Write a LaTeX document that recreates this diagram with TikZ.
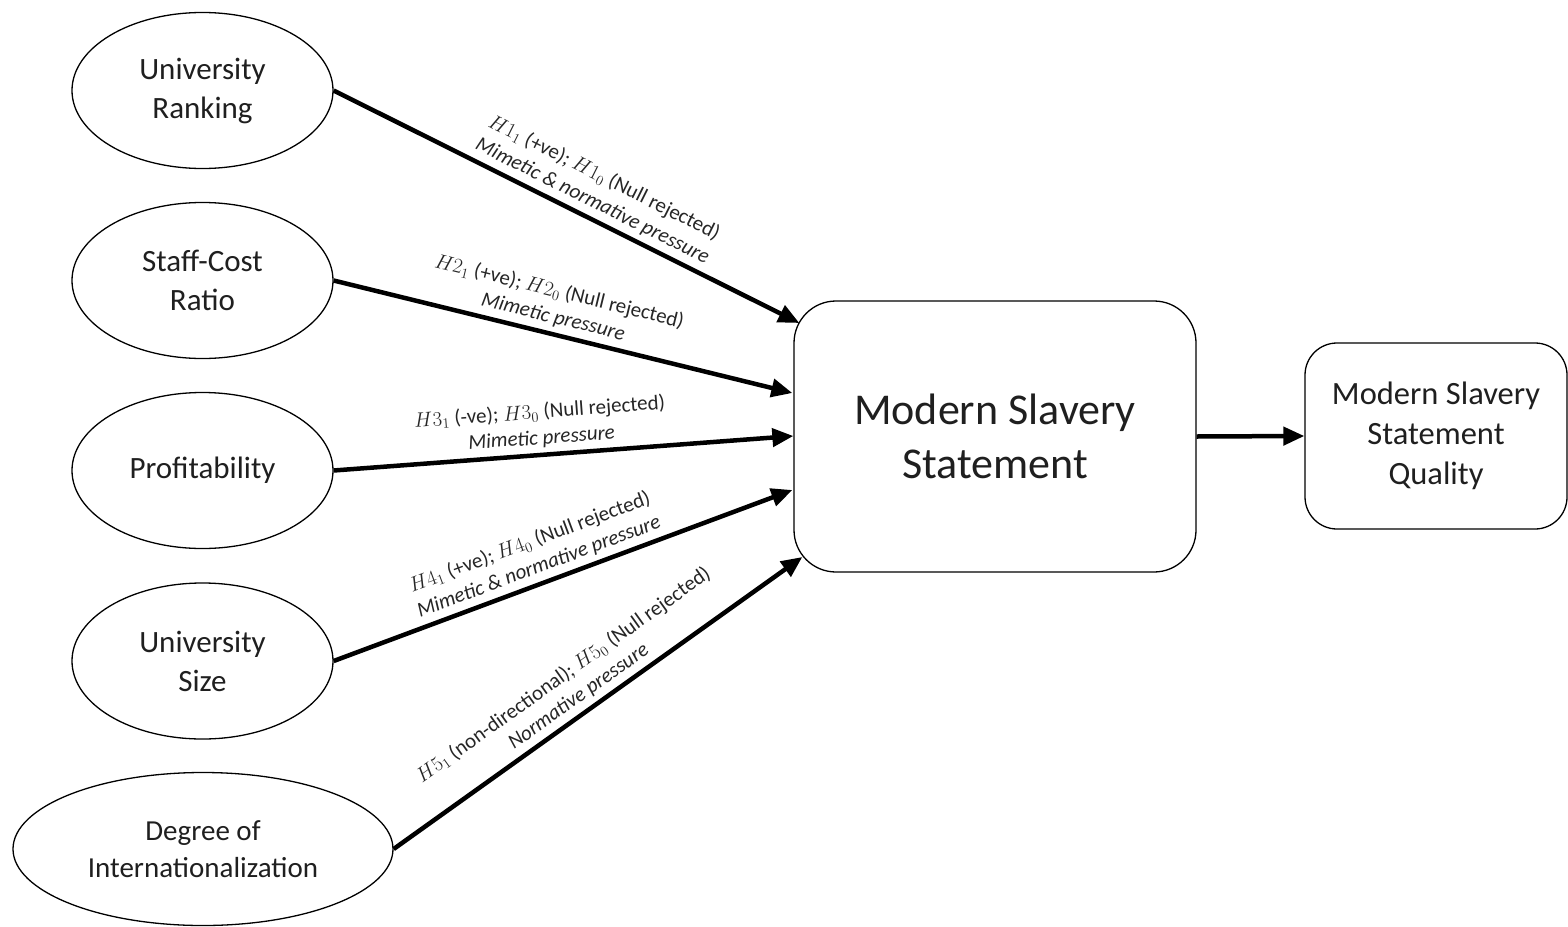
\documentclass[tikz,border=0pt]{standalone}
\usepackage{fontspec}
\setmainfont{Carlito}
\usetikzlibrary{arrows.meta,shapes.geometric,calc}
\begin{document}
\begin{tikzpicture}[x=1pt,y=-1pt,
  ell/.style={ellipse,draw,line width=1.3pt,inner sep=0pt,minimum width=261pt,minimum height=156pt,align=center,text=black!88,font=\fontsize{31}{39}\selectfont},
  box/.style={rectangle,draw,line width=1.3pt,align=center,inner sep=0pt,text=black!88},
  arr/.style={line width=4.5pt,-{Triangle[length=21pt,width=18pt]}},
  lab/.style={sloped,above,align=center,inner sep=5pt,text=black!85,font=\fontsize{21}{26}\selectfont}]
\useasboundingbox (0,0) rectangle (1568,926);

\node[ell] (r) at (202.5,90.5) {University\\Ranking};
\node[ell] (s) at (202.5,280.5) {Staff-Cost\\Ratio};
\node[ell] (p) at (202.5,470.5) {Profitability};
\node[ell] (u) at (202.5,661) {University\\Size};
\node[ell,minimum width=380pt,minimum height=153pt,font=\fontsize{29}{37}\selectfont] (d) at (203,849) {Degree of\\Internationalization};

\node[box,rounded corners=42pt,minimum width=402pt,minimum height=271pt,font=\fontsize{44}{54}\selectfont] (m) at (995,436.5) {Modern Slavery\\Statement};
\node[box,rounded corners=32pt,minimum width=262pt,minimum height=186pt,font=\fontsize{32.5}{40}\selectfont] (q) at (1436,436) {Modern Slavery\\Statement\\Quality};

\draw[arr] (r.east) -- ($(m.west)+(6,-113.5)$)
  node[lab,pos=0.54] {$H1_1$ (+ve); $H1_0$ (Null rejected)\\\textit{Mimetic \& normative pressure}};
\draw[arr] (s.east) -- ($(m.west)+(-1,-43.5)$)
  node[lab,pos=0.47] {$H2_1$ (+ve); $H2_0$ (Null rejected)\\\textit{Mimetic pressure}};
\draw[arr] (p.east) -- ($(m.west)+(0,-0.5)$)
  node[lab,pos=0.455] {$H3_1$ (-ve); $H3_0$ (Null rejected)\\\textit{Mimetic pressure}};
\draw[arr] (u.east) -- ($(m.west)+(-1,53.5)$)
  node[lab,pos=0.46] {$H4_1$ (+ve); $H4_0$ (Null rejected)\\\textit{Mimetic \& normative pressure}};
\draw[arr] (d.east) -- ($(m.west)+(9,120.5)$)
  node[lab,pos=0.476] {$H5_1$ (non-directional); $H5_0$ (Null rejected)\\\textit{Normative pressure}};
\draw[arr] (m.east) -- (q.west);
\end{tikzpicture}
\end{document}
